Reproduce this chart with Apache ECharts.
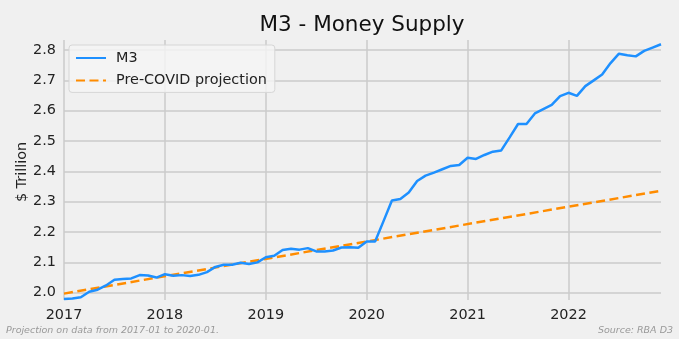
<!DOCTYPE html>
<html>
<head>
<meta charset="utf-8">
<script src="https://cdn.jsdelivr.net/npm/echarts@6/dist/echarts.min.js"></script>
<style>
html,body{margin:0;padding:0;background:#f0f0f0;}
#chart{width:679px;height:339px;}
</style>
</head>
<body>
<div id="chart"></div>
<script>
// ---- data ----
const months = [
  '2017-01','2017-02','2017-03','2017-04','2017-05','2017-06','2017-07','2017-08','2017-09','2017-10','2017-11','2017-12',
  '2018-01','2018-02','2018-03','2018-04','2018-05','2018-06','2018-07','2018-08','2018-09','2018-10','2018-11','2018-12',
  '2019-01','2019-02','2019-03','2019-04','2019-05','2019-06','2019-07','2019-08','2019-09','2019-10','2019-11','2019-12',
  '2020-01','2020-02','2020-03','2020-04','2020-05','2020-06','2020-07','2020-08','2020-09','2020-10','2020-11','2020-12',
  '2021-01','2021-02','2021-03','2021-04','2021-05','2021-06','2021-07','2021-08','2021-09','2021-10','2021-11','2021-12',
  '2022-01','2022-02','2022-03','2022-04','2022-05','2022-06','2022-07','2022-08','2022-09','2022-10','2022-11','2022-12'
];
const m3Values = [
  1.979,1.981,1.985,2.003,2.010,2.024,2.043,2.045,2.047,2.058,2.057,2.050,
  2.061,2.056,2.058,2.055,2.059,2.068,2.085,2.092,2.092,2.099,2.095,2.100,
  2.117,2.122,2.141,2.145,2.142,2.147,2.136,2.136,2.139,2.149,2.150,2.148,
  2.169,2.169,2.236,2.304,2.309,2.330,2.368,2.386,2.396,2.407,2.418,2.421,
  2.445,2.441,2.454,2.465,2.469,2.512,2.556,2.556,2.591,2.605,2.619,2.648,
  2.659,2.649,2.681,2.700,2.719,2.757,2.788,2.783,2.779,2.797,2.808,2.819
];
const projDates = ['2017-01','2022-12'];
const projValues = [1.997, 2.336];
const yTicks = [2.0,2.1,2.2,2.3,2.4,2.5,2.6,2.7,2.8];
const xTicks = [2017,2018,2019,2020,2021,2022];

const FONT = 'DejaVu Sans';
// month string -> fractional year position on the value axis
const toX = s => { const p = s.split('-'); return +p[0] + (+p[1]-1)/12; };

const chart = echarts.init(document.getElementById('chart'), null, {renderer:'canvas'});
const option = {
  backgroundColor: '#f0f0f0',
  animation: false,
  grid: {left: 64, right: 18, top: 40, bottom: 39, containLabel: false},
  xAxis: {
    type: 'value',
    min: toX(months[0]),
    max: toX(months[months.length-1]),
    axisLine: {show: false},
    axisTick: {show: false, customValues: xTicks},
    splitLine: {show: true, lineStyle: {color: '#cbcbcb', width: 1.5}},
    axisLabel: {
      customValues: xTicks,
      margin: 8,
      fontFamily: FONT, fontSize: 14.4, color: '#222',
      formatter: v => String(Math.round(v))
    }
  },
  yAxis: {
    type: 'value',
    min: 1.976, max: 2.833,
    axisLine: {show: false},
    axisTick: {show: false, customValues: yTicks},
    splitLine: {show: true, lineStyle: {color: '#cbcbcb', width: 1.5}},
    axisLabel: {
      customValues: yTicks,
      margin: 8,
      fontFamily: FONT, fontSize: 14.4, color: '#222',
      formatter: v => v.toFixed(1)
    }
  },
  legend: {
    orient: 'vertical',
    left: 69, top: 45,
    padding: [6, 8, 5, 6],
    itemGap: 8.4,
    itemWidth: 30, itemHeight: 14,
    backgroundColor: 'rgba(245,245,245,0.8)',
    borderColor: '#d6d6d6', borderWidth: 1, borderRadius: 3,
    itemStyle: {color: 'rgba(0,0,0,0)', borderWidth: 0, opacity: 0},
    textStyle: {fontFamily: FONT, fontSize: 14.4, color: '#222', padding: [0,0,0,5]},
    data: ['M3', 'Pre-COVID projection']
  },
  series: [
    {
      name: 'M3', type: 'line',
      data: months.map((m, i) => [toX(m), m3Values[i]]),
      showSymbol: false, symbol: 'none',
      lineStyle: {color: '#1e90ff', width: 2.5},
      itemStyle: {color: '#1e90ff'},
      z: 3
    },
    {
      name: 'Pre-COVID projection', type: 'line',
      data: projDates.map((m, i) => [toX(m), projValues[i]]),
      showSymbol: false, symbol: 'none',
      lineStyle: {color: '#ff8c00', width: 2.5, type: [9, 4.5]},
      itemStyle: {color: '#ff8c00'},
      z: 2
    }
  ],
  graphic: [
    {type: 'text', x: 362, y: 25, style: {text: 'M3 - Money Supply', font: '21.5px "DejaVu Sans"', fill: '#111', align: 'center', verticalAlign: 'middle'}},
    {type: 'text', x: 22, y: 172, rotation: Math.PI/2, style: {text: '$ Trillion', font: '14.4px "DejaVu Sans"', fill: '#222', align: 'center', verticalAlign: 'middle'}},
    {type: 'text', x: 6, y: 331, style: {text: 'Projection on data from 2017-01 to 2020-01.', font: 'italic 9.5px "DejaVu Sans"', fill: '#999', align: 'left', verticalAlign: 'middle'}},
    {type: 'text', x: 673, y: 331, style: {text: 'Source: RBA D3', font: 'italic 9.5px "DejaVu Sans"', fill: '#999', align: 'right', verticalAlign: 'middle'}}
  ]
};
chart.setOption(option);
</script>
</body>
</html>
